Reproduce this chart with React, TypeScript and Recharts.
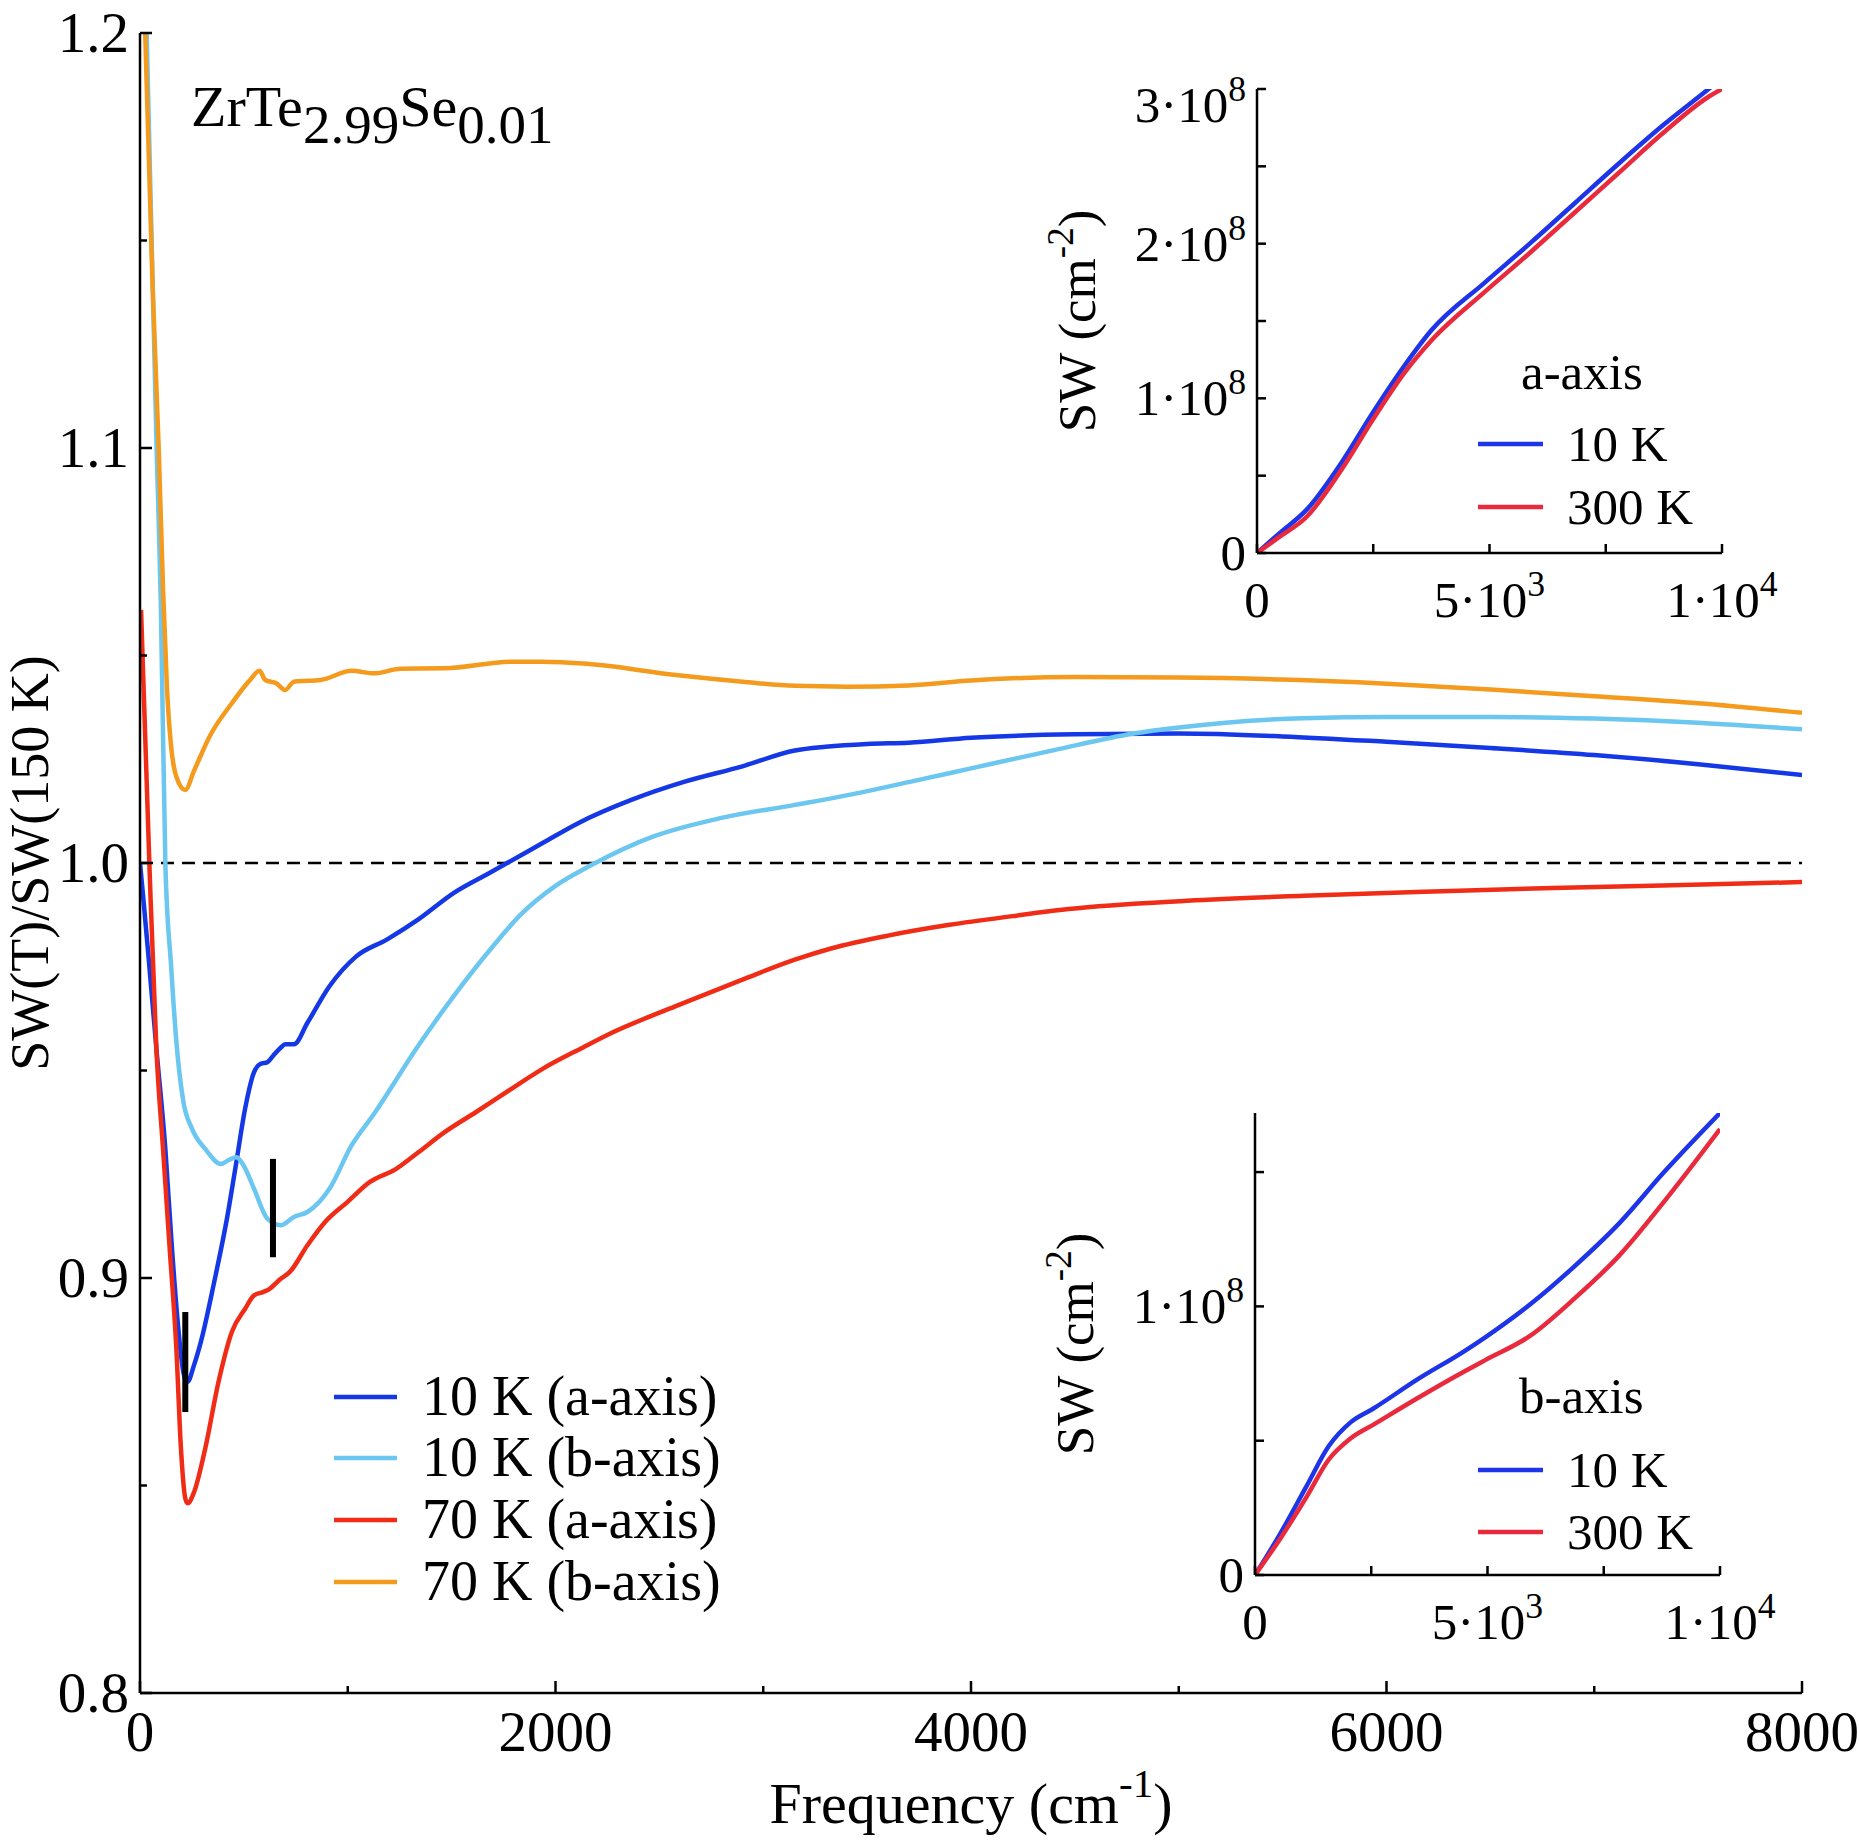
import React from 'react';
import { LineChart, Line, XAxis, YAxis, ReferenceLine } from 'recharts';

const FONT = 'Liberation Serif, DejaVu Serif, Times New Roman, serif';
const AXIS = { stroke: '#000', strokeWidth: 2.5 };

// main panel: SW(T)/SW(150 K) against frequency, each curve has its own sampling
const freq10a = [0, 15, 40, 79, 122, 154, 186, 210, 229, 260, 293, 357, 421, 464, 506, 549, 581, 613, 640, 677, 699, 741, 806, 912, 1041, 1190, 1340, 1511, 1682, 1767, 1938, 2109, 2365, 2622, 2900, 3152, 3300, 3500, 3700, 4000, 4500, 5000, 5500, 6000, 6500, 7000, 7500, 8000];
const ratio10a = [1.0, 0.992, 0.978, 0.9552, 0.9311, 0.907, 0.887, 0.877, 0.875, 0.879, 0.8846, 0.899, 0.915, 0.928, 0.9408, 0.9496, 0.9516, 0.952, 0.9535, 0.9555, 0.9563, 0.9563, 0.9615, 0.9703, 0.9775, 0.9816, 0.9864, 0.9928, 0.9976, 1.0, 1.0048, 1.0096, 1.0152, 1.0196, 1.0233, 1.0271, 1.028, 1.0287, 1.029, 1.0302, 1.031, 1.0312, 1.0305, 1.0292, 1.0277, 1.026, 1.0238, 1.0212];

const freq10b = [0, 32, 80, 100, 122, 150, 175, 207, 250, 314, 389, 430, 464, 500, 549, 613, 677, 741, 806, 912, 1019, 1126, 1340, 1511, 1700, 1831, 2000, 2173, 2472, 2793, 3152, 3400, 3700, 4000, 4400, 4783, 5200, 5600, 6000, 6500, 7000, 7500, 8000];
const ratio10b = [1.28, 1.2, 1.1, 1.063, 1.0, 0.975, 0.957, 0.943, 0.936, 0.9311, 0.9275, 0.9285, 0.9291, 0.927, 0.9215, 0.9143, 0.9127, 0.9147, 0.9159, 0.9215, 0.932, 0.9395, 0.956, 0.968, 0.98, 0.9875, 0.9945, 0.9995, 1.0064, 1.0108, 1.014, 1.0163, 1.0195, 1.0228, 1.0272, 1.0312, 1.0337, 1.0349, 1.0352, 1.0352, 1.0348, 1.0338, 1.0322];

const freq70a = [5, 45, 79, 111, 143, 175, 197, 218, 229, 261, 314, 378, 442, 506, 549, 592, 624, 677, 720, 806, 891, 998, 1105, 1233, 1340, 1468, 1618, 1788, 1938, 2130, 2259, 2579, 2900, 3152, 3326, 3600, 3897, 4200, 4469, 5040, 5600, 6183, 6800, 7326, 8000];
const ratio70a = [1.061, 1.0, 0.955, 0.931, 0.907, 0.883, 0.859, 0.8469, 0.8457, 0.8485, 0.8589, 0.875, 0.887, 0.8926, 0.8958, 0.8966, 0.8974, 0.8998, 0.9014, 0.9079, 0.9135, 0.9183, 0.9231, 0.9263, 0.9303, 0.9352, 0.94, 0.9456, 0.9504, 0.9555, 0.9588, 0.9655, 0.9719, 0.9767, 0.9794, 0.9825, 0.9851, 0.9872, 0.9889, 0.9909, 0.9921, 0.9931, 0.994, 0.9946, 0.9954];

const freq70b = [0, 25, 60, 90, 111, 130, 150, 175, 218, 260, 335, 442, 528, 575, 603, 656, 699, 741, 870, 1019, 1126, 1254, 1468, 1788, 1938, 2152, 2579, 2900, 3152, 3400, 3700, 4000, 4500, 5000, 5500, 6000, 6500, 7000, 7500, 8000];
const ratio70b = [1.26, 1.2, 1.14, 1.1, 1.066, 1.042, 1.028, 1.0208, 1.0176, 1.0222, 1.0305, 1.0385, 1.044, 1.0463, 1.0441, 1.0433, 1.0417, 1.0437, 1.0441, 1.0463, 1.0457, 1.0468, 1.0469, 1.0485, 1.0485, 1.048, 1.0453, 1.0437, 1.0427, 1.0425, 1.0428, 1.044, 1.0448, 1.0447, 1.0442, 1.0432, 1.0418, 1.0402, 1.0385, 1.0362];

const seriesNames = ['10 K (a-axis)', '10 K (b-axis)', '70 K (a-axis)', '70 K (b-axis)'];
const seriesColors = ['#1538e6', '#6bc6f0', '#f02c16', '#f49b1e'];

const freqTicks = [0, 1000, 2000, 3000, 4000, 5000, 6000, 7000, 8000];
const ratioTicks = [0.8, 0.85, 0.9, 0.95, 1.0, 1.05, 1.1, 1.15, 1.2];

// short black bars marking the minima
const markerFreq = [218, 640];
const markerLow = [0.8677, 0.905];
const markerHigh = [0.8918, 0.9287];

// insets: SW (cm^-2) against frequency, 10 K vs 300 K
const insetFreqA = [0, 480, 1058, 1827, 2500, 3173, 3750, 4904, 5865, 6827, 7788, 8750, 9712, 10000];
const sw10a = [0, 0.127e8, 0.277e8, 0.589e8, 0.912e8, 1.212e8, 1.44e8, 1.75e8, 2.0e8, 2.26e8, 2.52e8, 2.77e8, 3.0e8, 3.07e8];
const sw300a = [0, 0.104e8, 0.231e8, 0.543e8, 0.866e8, 1.166e8, 1.374e8, 1.69e8, 1.94e8, 2.2e8, 2.46e8, 2.72e8, 2.95e8, 3.0e8];

const insetFreqB = [0, 560, 1106, 1587, 2067, 2548, 3510, 4471, 4952, 5913, 6875, 7837, 8798, 10000];
const sw10b = [0, 0.159e8, 0.33e8, 0.48e8, 0.57e8, 0.62e8, 0.73e8, 0.83e8, 0.885e8, 1.007e8, 1.15e8, 1.31e8, 1.5e8, 1.72e8];
const sw300b = [0, 0.14e8, 0.29e8, 0.43e8, 0.51e8, 0.56e8, 0.66e8, 0.755e8, 0.8e8, 0.89e8, 1.03e8, 1.19e8, 1.39e8, 1.66e8];

const tempNames = ['10 K', '300 K'];
const tempColors = ['#1e34e8', '#e92a3c'];

const insetFreqTicks = [0, 2500, 5000, 7500, 10000];
const insetFreqLabels: Record<number, [string, string]> = { 0: ['0', ''], 5000: ['5·10', '3'], 10000: ['1·10', '4'] };
const swTicksA = [0, 0.5e8, 1e8, 1.5e8, 2e8, 2.5e8, 3e8];
const swTicksB = [0, 0.5e8, 1e8, 1.5e8];
const swLabels: Record<number, [string, string]> = { 0: ['0', ''], 100000000: ['1·10', '8'], 200000000: ['2·10', '8'], 300000000: ['3·10', '8'] };

const toPts = (xs: number[], ys: number[]) => xs.map((x, i) => ({ x, y: ys[i] }));

const mainSeries = [
  toPts(freq10a, ratio10a),
  toPts(freq10b, ratio10b),
  toPts(freq70a, ratio70a),
  toPts(freq70b, ratio70b),
];

// ---- tick renderers (ticks point into the frame) ----
const isMajorFreq = (v: number) => v % 2000 === 0;
const isMajorRatio = (v: number) => Math.round(v * 100) % 10 === 0;
const txt = { fontFamily: FONT };

const mainBottomTick = (p: any) => {
  const v = p.payload.value;
  const major = isMajorFreq(v);
  return (
    <g>
      <line x1={p.x} x2={p.x} y1={p.y} y2={p.y - (major ? 12 : 7)} stroke="#000" strokeWidth={2.5} />
      {major && (
        <text x={p.x} y={p.y + 58} textAnchor="middle" style={txt} fontSize={57} fill="#000">
          {v}
        </text>
      )}
    </g>
  );
};

const mainTopTick = (p: any) => {
  const major = isMajorFreq(p.payload.value);
  return <line x1={p.x} x2={p.x} y1={p.y} y2={p.y + (major ? 12 : 7)} stroke="#000" strokeWidth={2.5} />;
};

const mainLeftTick = (p: any) => {
  const v = p.payload.value;
  const major = isMajorRatio(v);
  return (
    <g>
      <line x1={p.x} x2={p.x + (major ? 12 : 7)} y1={p.y} y2={p.y} stroke="#000" strokeWidth={2.5} />
      {major && (
        <text x={p.x - 11} y={p.y + 19} textAnchor="end" style={txt} fontSize={57} fill="#000">
          {v.toFixed(1)}
        </text>
      )}
    </g>
  );
};

const mainRightTick = (p: any) => {
  const major = isMajorRatio(p.payload.value);
  return <line x1={p.x} x2={p.x - (major ? 12 : 7)} y1={p.y} y2={p.y} stroke="#000" strokeWidth={2.5} />;
};

const freqLabel = (p: any) => {
  const vb = p.viewBox;
  return (
    <text x={vb.x + vb.width / 2} y={vb.y + 130} textAnchor="middle" style={txt} fontSize={58} fill="#000">
      Frequency (cm<tspan dy={-26} fontSize={41}>-1</tspan>
      <tspan dy={26}>)</tspan>
    </text>
  );
};

const ratioLabel = (p: any) => {
  const vb = p.viewBox;
  const cx = vb.x + 48;
  const cy = vb.y + vb.height / 2;
  return (
    <text x={cx} y={cy} transform={`rotate(-90, ${cx}, ${cy})`} textAnchor="middle" style={txt} fontSize={54} fill="#000">
      SW(T)/SW(150 K)
    </text>
  );
};

function SciText({ x, y, anchor, parts, size }: { x: number; y: number; anchor: 'start' | 'middle' | 'end'; parts: [string, string]; size: number }) {
  return (
    <text x={x} y={y} textAnchor={anchor} style={txt} fontSize={size} fill="#000">
      {parts[0]}
      {parts[1] && (
        <tspan dy={-21} fontSize={size * 0.7}>
          {parts[1]}
        </tspan>
      )}
    </text>
  );
}

type InsetProps = {
  left: number;
  top: number;
  width: number;
  height: number;
  plotTop: number;
  plotRight: number;
  yAxisWidth: number;
  xAxisHeight: number;
  lines: { x: number; y: number }[][];
  yMax: number;
  yTicks: number[];
};

function Inset({ left, top, width, height, plotTop, plotRight, yAxisWidth, xAxisHeight, lines, yMax, yTicks }: InsetProps) {
  const bottomTick = (p: any) => {
    const v = p.payload.value;
    const lab = insetFreqLabels[v];
    return (
      <g>
        <line x1={p.x} x2={p.x} y1={p.y} y2={p.y - 9} stroke="#000" strokeWidth={2.5} />
        {lab && <SciText x={p.x} y={p.y + 64} anchor="middle" parts={lab} size={51} />}
      </g>
    );
  };
  const topTick = (p: any) => <line x1={p.x} x2={p.x} y1={p.y} y2={p.y + 9} stroke="#000" strokeWidth={2.5} />;
  const leftTick = (p: any) => {
    const v = p.payload.value;
    const lab = swLabels[Math.round(v)];
    // the topmost label sits a little lower so it stays inside the frame
    const shift = Math.abs(v - yMax) < 1 ? 16 : 0;
    return (
      <g>
        <line x1={p.x} x2={p.x + 9} y1={p.y} y2={p.y} stroke="#000" strokeWidth={2.5} />
        {lab && <SciText x={p.x - 11} y={p.y + 17 + shift} anchor="end" parts={lab} size={51} />}
      </g>
    );
  };
  const rightTick = (p: any) => <line x1={p.x} x2={p.x - 9} y1={p.y} y2={p.y} stroke="#000" strokeWidth={2.5} />;
  const swLabel = (p: any) => {
    const vb = p.viewBox;
    const cx = vb.x + vb.width - 162;
    const cy = vb.y + vb.height / 2;
    return (
      <text x={cx} y={cy} transform={`rotate(-90, ${cx}, ${cy})`} textAnchor="middle" style={txt} fontSize={53} fill="#000">
        SW (cm<tspan dy={-22} fontSize={37}>-2</tspan>
        <tspan dy={22}>)</tspan>
      </text>
    );
  };

  return (
    <div style={{ position: 'absolute', left, top, width, height }}>
      <LineChart width={width} height={height} margin={{ top: plotTop, right: width - plotRight, bottom: 0, left: 0 }}>
        <XAxis xAxisId="b" type="number" dataKey="x" domain={[0, 10000]} ticks={insetFreqTicks} interval={0} allowDataOverflow height={xAxisHeight} tickSize={0} tickMargin={0} tickLine={false} axisLine={AXIS} tick={bottomTick} />
        <XAxis xAxisId="t" orientation="top" type="number" dataKey="x" domain={[0, 10000]} ticks={insetFreqTicks} interval={0} allowDataOverflow height={0} tickSize={0} tickMargin={0} tickLine={false} axisLine={AXIS} tick={topTick} />
        <YAxis yAxisId="l" type="number" domain={[0, yMax]} ticks={yTicks} interval={0} allowDataOverflow width={yAxisWidth} tickSize={0} tickMargin={0} tickLine={false} axisLine={AXIS} tick={leftTick} label={swLabel} />
        <YAxis yAxisId="r" orientation="right" type="number" domain={[0, yMax]} ticks={yTicks} interval={0} allowDataOverflow width={0} tickSize={0} tickMargin={0} tickLine={false} axisLine={AXIS} tick={rightTick} />
        {lines.map((pts, i) => (
          <Line key={tempNames[i]} name={tempNames[i]} data={pts} dataKey="y" xAxisId="b" yAxisId="l" type="monotone" stroke={tempColors[i]} strokeWidth={4.5} dot={false} isAnimationActive={false} />
        ))}
      </LineChart>
    </div>
  );
}

function Keys() {
  const rowsMain = [1397, 1458, 1520, 1582];
  return (
    <svg width={1860} height={1840} style={{ position: 'absolute', left: 0, top: 0, pointerEvents: 'none' }}>
      <text x={191} y={126} style={txt} fontSize={58} fill="#000">
        ZrTe<tspan dy={17} fontSize={55}>2.99</tspan>
        <tspan dy={-17}>Se</tspan>
        <tspan dy={17} fontSize={55}>0.01</tspan>
      </text>
      {seriesNames.map((n, i) => (
        <g key={n}>
          <line x1={334} x2={397} y1={rowsMain[i]} y2={rowsMain[i]} stroke={seriesColors[i]} strokeWidth={4.5} />
          <text x={422} y={rowsMain[i] + 18} style={txt} fontSize={56} fill="#000">
            {n}
          </text>
        </g>
      ))}
      <text x={1521} y={389} style={txt} fontSize={51} fill="#000">a-axis</text>
      <text x={1519} y={1413} style={txt} fontSize={51} fill="#000">b-axis</text>
      {[[444, 507], [1470, 1532]].map((rows, k) =>
        tempNames.map((n, i) => (
          <g key={`${k}-${n}`}>
            <line x1={1478} x2={1543} y1={rows[i]} y2={rows[i]} stroke={tempColors[i]} strokeWidth={4.5} />
            <text x={1567} y={rows[i] + 17} style={txt} fontSize={51} fill="#000">
              {n}
            </text>
          </g>
        ))
      )}
    </svg>
  );
}

export default function App() {
  return (
    <div style={{ position: 'absolute', left: 0, top: 0, width: 1860, height: 1840, background: '#fff', fontFamily: FONT }}>
      <LineChart width={1860} height={1840} margin={{ top: 33, right: 58, bottom: 0, left: 0 }}>
        <XAxis xAxisId="b" type="number" dataKey="x" domain={[0, 8000]} ticks={freqTicks} interval={0} allowDataOverflow height={147} tickSize={0} tickMargin={0} tickLine={false} axisLine={AXIS} tick={mainBottomTick} label={freqLabel} />
        <XAxis xAxisId="t" orientation="top" type="number" dataKey="x" domain={[0, 8000]} ticks={freqTicks} interval={0} allowDataOverflow height={0} tickSize={0} tickMargin={0} tickLine={false} axisLine={AXIS} tick={mainTopTick} />
        <YAxis yAxisId="l" type="number" domain={[0.8, 1.2]} ticks={ratioTicks} interval={0} allowDataOverflow width={140} tickSize={0} tickMargin={0} tickLine={false} axisLine={AXIS} tick={mainLeftTick} label={ratioLabel} />
        <YAxis yAxisId="r" orientation="right" type="number" domain={[0.8, 1.2]} ticks={ratioTicks} interval={0} allowDataOverflow width={0} tickSize={0} tickMargin={0} tickLine={false} axisLine={AXIS} tick={mainRightTick} />
        <ReferenceLine xAxisId="b" yAxisId="l" y={1} stroke="#000" strokeWidth={2.5} strokeDasharray="13 8" />
        {mainSeries.map((pts, i) => (
          <Line key={seriesNames[i]} name={seriesNames[i]} data={pts} dataKey="y" xAxisId="b" yAxisId="l" type="monotone" stroke={seriesColors[i]} strokeWidth={4.5} dot={false} isAnimationActive={false} />
        ))}
        {markerFreq.map((f, i) => (
          <ReferenceLine key={f} xAxisId="b" yAxisId="l" segment={[{ x: f, y: markerLow[i] }, { x: f, y: markerHigh[i] }]} stroke="#000" strokeWidth={6} />
        ))}
      </LineChart>
      <Inset left={1000} top={40} width={800} height={640} plotTop={49} plotRight={722} yAxisWidth={257} xAxisHeight={127} lines={[toPts(insetFreqA, sw10a), toPts(insetFreqA, sw300a)]} yMax={3e8} yTicks={swTicksA} />
      <Inset left={1000} top={1060} width={800} height={640} plotTop={53} plotRight={720} yAxisWidth={255} xAxisHeight={125} lines={[toPts(insetFreqB, sw10b), toPts(insetFreqB, sw300b)]} yMax={1.72e8} yTicks={swTicksB} />
      <Keys />
    </div>
  );
}
